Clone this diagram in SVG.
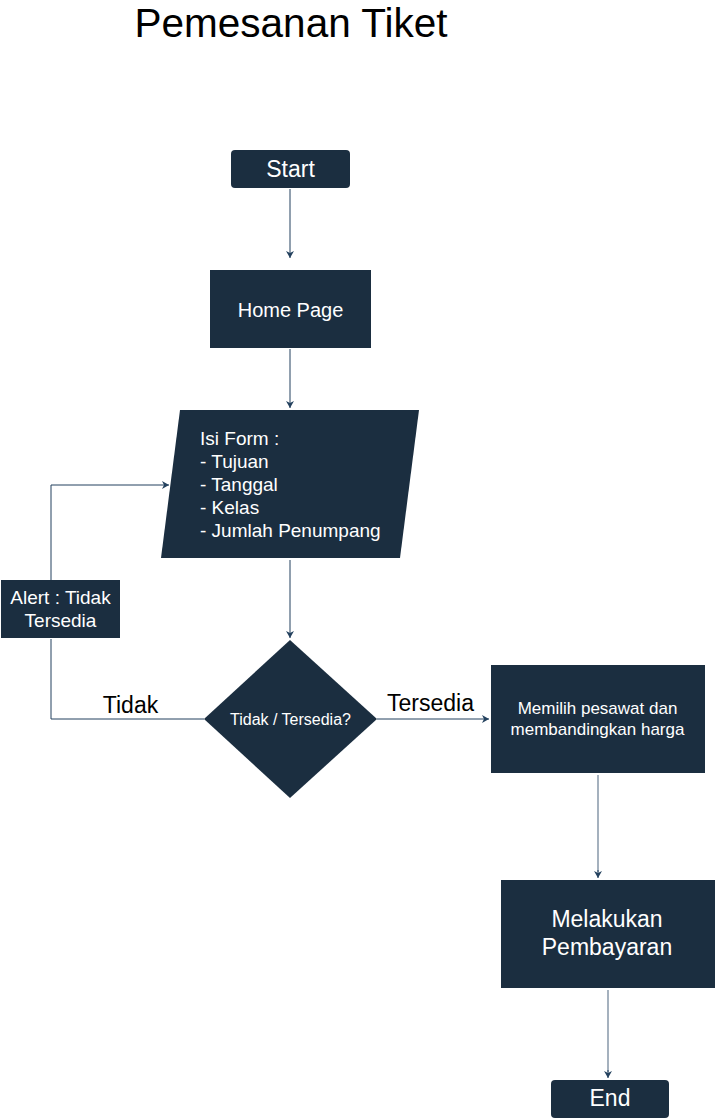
<svg xmlns="http://www.w3.org/2000/svg" width="716" height="1120" viewBox="0 0 716 1120">
<defs>
<marker id="arr" markerWidth="10" markerHeight="10" refX="8" refY="5" orient="auto" markerUnits="userSpaceOnUse">
<path d="M1,1 L8,5 L1,9 L3,5 Z" fill="#23415e"/>
</marker>
<style>
.n{fill:#1b2e40}
.t{font-family:"Liberation Sans",Arial,sans-serif;fill:#ffffff}
.c{fill:none;stroke:#23415e;stroke-width:1}
.g{fill:none;stroke:#8797a8;stroke-width:1.5}
.l{font-family:"Liberation Sans",Arial,sans-serif;fill:#000000;font-size:23px}
</style>
</defs>
<rect width="716" height="1120" fill="#ffffff"/>
<text x="291" y="37" text-anchor="middle" style="font-family:'Liberation Sans',Arial,sans-serif;font-size:40.5px;fill:#000">Pemesanan Tiket</text>
<g id="connectors">
<path class="c" d="M290,189 V258" marker-end="url(#arr)"/>
<path class="c" d="M290,349 V408" marker-end="url(#arr)"/>
<path class="c" d="M290,560 V638" marker-end="url(#arr)"/>
<path class="c" d="M204,719 H51 V639"/>
<path class="c" d="M51,580 V485 H169" marker-end="url(#arr)"/>
<path class="c" d="M377,719 H489" marker-end="url(#arr)"/>
<path class="g" d="M598,775 V872"/>
<path class="c" d="M598,870 V878" marker-end="url(#arr)"/>
<path class="g" d="M608,990 V1072"/>
<path class="c" d="M608,1070 V1078" marker-end="url(#arr)"/>
<text class="l" x="130.5" y="713" text-anchor="middle">Tidak</text>
<text class="l" x="430.5" y="711" text-anchor="middle">Tersedia</text>
</g>
<g id="start">
<rect class="n" x="231" y="150" width="119" height="38" rx="4"/>
<text class="t" x="290.5" y="177" text-anchor="middle" font-size="23">Start</text>
</g>
<g id="home">
<rect class="n" x="210" y="270" width="161" height="78"/>
<text class="t" x="290.5" y="317" text-anchor="middle" font-size="20">Home Page</text>
</g>
<g id="form">
<polygon class="n" points="180,410 419,410 400,558 161,558"/>
<text class="t" font-size="19"><tspan x="200" y="445">Isi Form :</tspan><tspan x="200" y="468">- Tujuan</tspan><tspan x="200" y="491">- Tanggal</tspan><tspan x="200" y="514">- Kelas</tspan><tspan x="200" y="537">- Jumlah Penumpang</tspan></text>
</g>
<g id="decision">
<polygon class="n" points="290,640 377,719 290,798 204,719"/>
<text class="t" x="290.5" y="725" text-anchor="middle" font-size="16">Tidak / Tersedia?</text>
</g>
<g id="alert">
<rect class="n" x="1" y="580" width="119" height="58"/>
<text class="t" x="60.5" y="604" text-anchor="middle" font-size="19">Alert : Tidak</text>
<text class="t" x="60.5" y="627" text-anchor="middle" font-size="19">Tersedia</text>
</g>
<g id="memilih">
<rect class="n" x="491" y="665" width="214" height="108"/>
<text class="t" x="597.5" y="714" text-anchor="middle" font-size="17">Memilih pesawat dan</text>
<text class="t" x="597.5" y="735" text-anchor="middle" font-size="17">membandingkan harga</text>
</g>
<g id="bayar">
<rect class="n" x="501" y="880" width="214" height="108"/>
<text class="t" x="607" y="927" text-anchor="middle" font-size="23">Melakukan</text>
<text class="t" x="607" y="955" text-anchor="middle" font-size="23">Pembayaran</text>
</g>
<g id="end">
<rect class="n" x="551" y="1080" width="118" height="38" rx="4"/>
<text class="t" x="610" y="1106" text-anchor="middle" font-size="23">End</text>
</g>
</svg>
